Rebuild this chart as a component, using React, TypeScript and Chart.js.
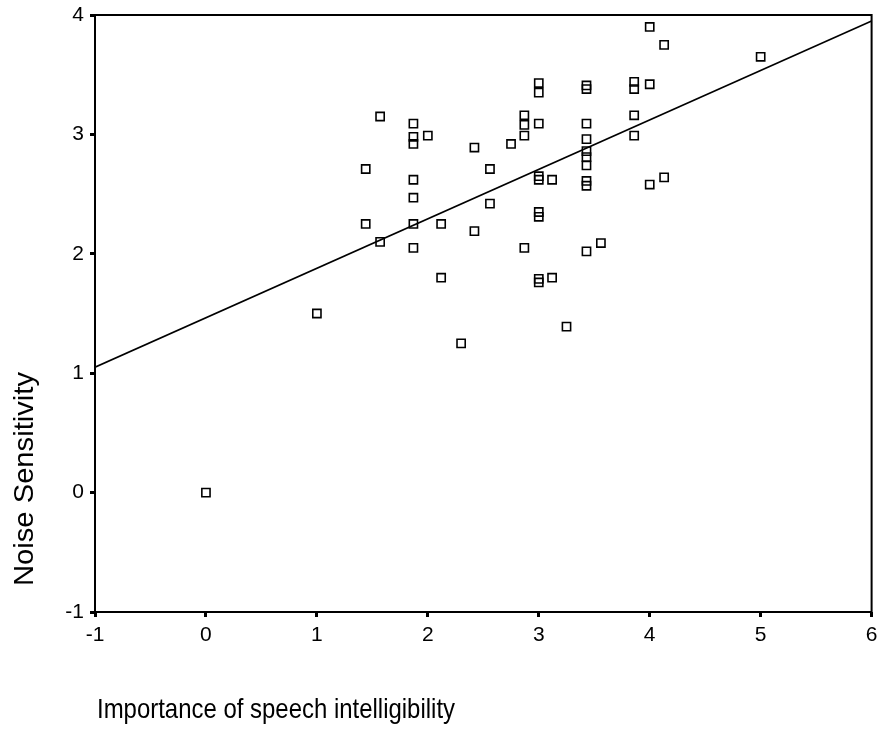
import React, { useEffect, useRef } from "react";
import { Chart, registerables } from "chart.js";

Chart.register(...registerables);

const xValues = [
  0, 1, 1.44, 1.44, 1.57, 1.57, 1.87, 1.87, 1.87, 2.0, 1.87, 1.87, 1.87, 1.87,
  2.12, 2.12, 2.42, 2.42, 2.56, 2.56, 2.3, 2.75, 2.87, 2.87, 2.87, 2.87, 3, 3,
  3, 3, 3, 3.12, 3, 3, 3, 3, 3.12, 3.25, 3.43, 3.43, 3.43, 3.43, 3.43, 3.43,
  3.43, 3.43, 3.43, 3.43, 3.56, 3.86, 3.86, 4.0, 4.0, 4.13, 3.86, 3.86, 4.0,
  4.13, 5,
];
const yValues = [
  0, 1.5, 2.25, 2.71, 3.15, 2.1, 3.09, 2.98, 2.92, 2.99, 2.62, 2.47, 2.25, 2.05,
  2.25, 1.8, 2.89, 2.19, 2.71, 2.42, 1.25, 2.92, 3.16, 3.08, 2.99, 2.05, 3.09,
  3.43, 3.35, 2.65, 2.62, 2.62, 2.35, 2.31, 1.79, 1.76, 1.8, 1.39, 3.41, 3.38,
  3.09, 2.96, 2.86, 2.81, 2.74, 2.61, 2.57, 2.02, 2.09, 3.44, 3.38, 3.42, 3.9,
  3.75, 3.16, 2.99, 2.58, 2.64, 3.65,
];
const fitLineX = [-1, 6];
const fitLineY = [1.05, 3.95];
const xTicks = [-1, 0, 1, 2, 3, 4, 5, 6];
const yTicks = [-1, 0, 1, 2, 3, 4];
const xTitle = "Importance of speech intelligibility";
const yTitle = "Noise Sensitivity";

const FONT = "'Liberation Sans', Arial, Helvetica, sans-serif";

const framePlugin = {
  id: "frameAndTitles",
  afterDraw(chart: any) {
    const { ctx, chartArea } = chart;
    ctx.save();
    ctx.strokeStyle = "#000";
    ctx.lineWidth = 2;
    ctx.strokeRect(
      chartArea.left,
      chartArea.top,
      chartArea.right - chartArea.left,
      chartArea.bottom - chartArea.top
    );
    ctx.fillStyle = "#000";
    ctx.font = `28px ${FONT}`;
    ctx.textBaseline = "alphabetic";
    ctx.textAlign = "left";
    const w = ctx.measureText(xTitle).width;
    const sx = 358 / w;
    ctx.save();
    ctx.translate(chartArea.left + 2, chartArea.bottom + 106);
    ctx.scale(sx, 1);
    ctx.fillText(xTitle, 0, 0);
    ctx.restore();
    ctx.save();
    ctx.font = `28px ${FONT}`;
    const wy = ctx.measureText(yTitle).width;
    const sy = 214 / wy;
    ctx.translate(33, chartArea.bottom - 26);
    ctx.rotate(-Math.PI / 2);
    ctx.scale(sy, 1);
    ctx.fillText(yTitle, 0, 0);
    ctx.restore();
    ctx.restore();
  },
};

export default function App() {
  const ref = useRef<HTMLCanvasElement | null>(null);
  useEffect(() => {
    document.body.style.margin = "0";
    const canvas = ref.current;
    if (!canvas) return;
    const chart = new Chart(canvas, {
      type: "scatter",
      data: {
        datasets: [
          {
            type: "scatter",
            data: xValues.map((x, i) => ({ x, y: yValues[i] })),
            pointStyle: "rect",
            pointRadius: 5.8,
            pointBorderWidth: 1.6,
            pointBorderColor: "#000",
            pointBackgroundColor: "rgba(0,0,0,0)",
            showLine: false,
          },
          {
            type: "line",
            data: fitLineX.map((x, i) => ({ x, y: fitLineY[i] })),
            borderColor: "#000",
            borderWidth: 1.6,
            pointRadius: 0,
            fill: false,
          } as any,
        ],
      },
      options: {
        responsive: false,
        animation: false,
        layout: { padding: { top: 15, right: 7, left: 0, bottom: 0 } },
        plugins: {
          legend: { display: false },
          tooltip: { enabled: false },
        },
        scales: {
          x: {
            type: "linear",
            min: -1,
            max: 6,
            afterBuildTicks: (s: any) => {
              s.ticks = xTicks.map((v) => ({ value: v }));
            },
            afterFit: (s: any) => {
              s.height = 117;
              s.paddingLeft = 0;
              s.paddingRight = 0;
            },
            border: { display: false },
            grid: {
              display: true,
              drawOnChartArea: false,
              drawTicks: true,
              tickLength: 5,
              tickWidth: 3,
              tickColor: "#000",
            },
            ticks: {
              color: "#000",
              font: { family: FONT, size: 21 },
              padding: 6,
              maxRotation: 0,
              callback: (v: any) => String(v),
            },
          },
          y: {
            type: "linear",
            min: -1,
            max: 4,
            afterBuildTicks: (s: any) => {
              s.ticks = yTicks.map((v) => ({ value: v }));
            },
            afterFit: (s: any) => {
              s.width = 95;
              s.paddingTop = 0;
              s.paddingBottom = 0;
            },
            border: { display: false },
            grid: {
              display: true,
              drawOnChartArea: false,
              drawTicks: true,
              tickLength: 5,
              tickWidth: 3,
              tickColor: "#000",
            },
            ticks: {
              color: "#000",
              font: { family: FONT, size: 21 },
              padding: 6,
              callback: (v: any) => String(v),
            },
          },
        },
      },
      plugins: [framePlugin],
    });
    return () => chart.destroy();
  }, []);
  return <canvas ref={ref} width={879} height={729} style={{ display: "block" }} />;
}
